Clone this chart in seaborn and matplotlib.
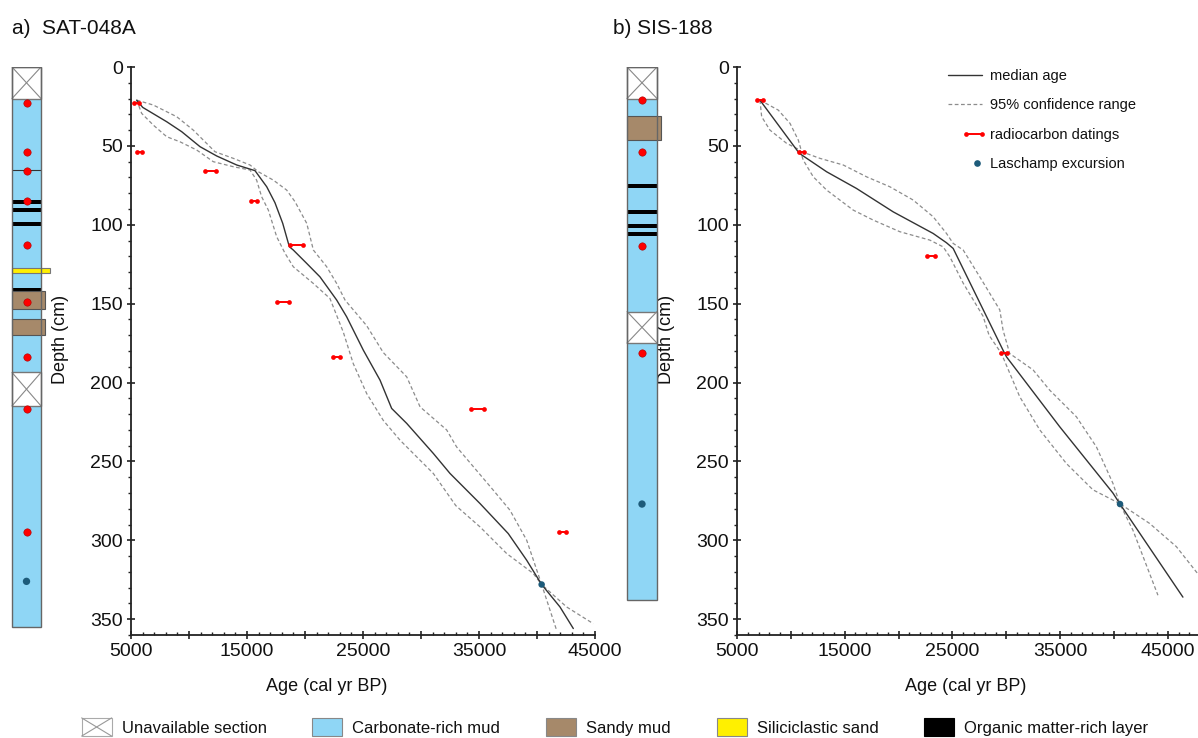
import numpy as np
import pandas as pd
import matplotlib
matplotlib.use("Agg")
import matplotlib.pyplot as plt
import seaborn as sns
from matplotlib.patches import Rectangle, Patch
from matplotlib.lines import Line2D
from matplotlib.legend_handler import HandlerBase
from matplotlib.ticker import MultipleLocator, FuncFormatter

sns.set_theme(style="white")
plt.rcParams["font.family"] = ["Liberation Sans", "DejaVu Sans"]

# ---------------- SAT-048A age-depth model ----------------
sat_med_age = [5490, 6010, 8080, 9370, 10950, 12390, 14110, 15690, 16700, 17410, 18080,
               18650, 18990, 20150, 21290, 22730, 23590, 25030, 26470, 27470, 28770,
               31060, 32500, 35090, 37520, 39110, 40400, 41980, 43130]
sat_med_depth = [21, 25.6, 34.7, 41, 50.5, 56.4, 62.1, 65.7, 75.9, 86, 99.1,
                 113.9, 116, 124.5, 133, 147.7, 158.3, 179.5, 198.5, 216.4, 225.9,
                 244.9, 257.6, 276.7, 295.7, 312.6, 328, 342.2, 355.9]
sat_old_age = [5490, 6920, 8940, 10370, 11230, 12240, 13820, 15260, 15980, 17270, 18420,
               19140, 20150, 20720, 21870, 22730, 23450, 25320, 26750, 28770, 29920,
               32210, 33070, 36230, 37670, 39110, 40400, 42550, 44850]
sat_old_depth = [21, 24.1, 31.5, 40, 46.3, 53.7, 57.9, 62.1, 66.4, 71.7, 78,
                 85.4, 99.1, 116, 126.6, 137.2, 147.7, 164, 181, 196.4, 215.4,
                 230, 240.8, 268.2, 280.9, 299.9, 328, 342.2, 352.8]
sat_young_age = [5490, 5920, 6920, 8080, 9220, 10660, 12090, 13820, 15260, 15830, 16260,
                 16840, 17560, 18280, 18990, 20720, 22150, 23300, 24160, 25320, 26750,
                 28190, 31060, 33000, 35090, 37390, 39680, 40400, 41690]
sat_young_depth = [21, 29.4, 36.8, 44.2, 47.4, 52.6, 60, 63.2, 65.3, 71.7, 82.2,
                   90.7, 107.6, 118.1, 126.6, 137.2, 146.7, 168, 188, 207, 224,
                   236.5, 257.6, 278, 291.5, 308.4, 321, 328, 357]
sat_c14_depth = [23, 54, 66, 85, 113, 149, 184, 217, 295]
sat_c14_min = [5260, 5545, 11400, 15320, 18730, 17560, 22380, 34280, 41870]
sat_c14_max = [5720, 5920, 12350, 15890, 19850, 18590, 23010, 35460, 42470]
sat_lasch_age, sat_lasch_depth = 40400, 328

# ---------------- SIS-188 age-depth model ----------------
sis_med_age = [7130, 10780, 13320, 16100, 19500, 23210, 24450, 25070, 29700, 30020,
               34960, 39900, 40530, 46400]
sis_med_depth = [21, 54.7, 66.4, 77, 91.8, 105.5, 111.4, 115, 179.5, 183.7,
                 228, 270, 276.7, 336]
sis_old_age = [7130, 8830, 9920, 10690, 11000, 12700, 14860, 17030, 19190, 21350, 23210,
               24450, 25070, 26000, 27540, 29400, 29700, 30320, 32490, 34030, 36510,
               38370, 39910, 40530, 43310, 45790, 47760, 49500]
sis_old_depth = [21, 27.3, 35.7, 46.3, 53.7, 57.9, 62.1, 69.6, 75.9, 84.3, 94.9,
                 105.5, 111.8, 116, 133, 154, 166.8, 181.6, 192, 204.8, 221.7,
                 240.8, 264, 276.7, 289.3, 304, 321, 332]
sis_young_age = [7130, 7290, 8060, 9610, 10840, 11150, 12080, 13320, 15790, 17640, 20120,
                 22900, 24140, 24760, 26000, 27850, 28400, 29550, 31250, 33110, 35580,
                 38050, 40530, 41760, 44080]
sis_young_depth = [21, 31.5, 40, 48.4, 52.6, 59, 69.6, 78, 90.7, 97, 104.4,
                   109.7, 114, 120.3, 137, 158, 170, 181.6, 209, 230, 251.3,
                   268, 276.7, 293.6, 334.8]
sis_c14_depth = [21, 54, 120, 181]
sis_c14_min = [6900, 10720, 22650, 29550]
sis_c14_max = [7450, 11215, 23340, 30070]
sis_lasch_age, sis_lasch_depth = 40560, 277

# ---------------- core logs (depth intervals, cm) ----------------
sat_core_bottom = 355
sat_unavailable = [(0, 20), (193.6, 214.8)]
sat_sandy = [(142, 153.6), (160, 170)]
sat_silici = [(127.1, 130.5)]
sat_organic = [(84.2, 86.8), (89.4, 92), (98.3, 100.9), (140.2, 142.8)]
sat_contacts = [65]
sat_core_c14 = [23, 54, 66, 85, 113, 149, 184, 217, 295]
sat_core_lasch = [326]

sis_core_bottom = 338
sis_unavailable = [(0, 20), (155, 175)]
sis_sandy = [(31, 46)]
sis_silici = []
sis_organic = [(74, 76.5), (90.5, 93), (99.3, 101.8), (104.5, 107)]
sis_contacts = []
sis_core_c14 = [21, 54, 113.5, 181]
sis_core_lasch = [277]

CARB = "#8fd6f5"
SANDY = "#a6896a"
YELLOW = "#fff000"
RED = "#ff0000"
LASCH = "#1d5b7a"
MED = "#333333"
CI = "#8c8c8c"

W, H = 1198, 738
fig = plt.figure(figsize=(W / 100, H / 100), dpi=100)


def px_rect(x0, y_top, x1, y_bot):
    return [x0 / W, 1 - y_bot / H, (x1 - x0) / W, (y_bot - y_top) / H]


ax_a = fig.add_axes(px_rect(131, 67, 595, 635))
ax_b = fig.add_axes(px_rect(737, 67, 1198, 635))
core_a = fig.add_axes(px_rect(0, 67, 70, 635))
core_b = fig.add_axes(px_rect(600, 67, 670, 635))


def dating_frame(depths, lo, hi):
    rows = []
    for i, (d, a0, a1) in enumerate(zip(depths, lo, hi)):
        rows.append(dict(id=i, age=a0, depth=d))
        rows.append(dict(id=i, age=a1, depth=d))
    return pd.DataFrame(rows)


def draw_model(ax, med, old, young, c14, lasch):
    sns.lineplot(x=old[0], y=old[1], sort=False, estimator=None, color=CI, lw=0.9,
                 linestyle=(0, (3, 2)), ax=ax)
    sns.lineplot(x=young[0], y=young[1], sort=False, estimator=None, color=CI, lw=0.9,
                 linestyle=(0, (3, 2)), ax=ax)
    sns.lineplot(x=med[0], y=med[1], sort=False, estimator=None, color=MED, lw=1.0, ax=ax)
    df = dating_frame(*c14)
    sns.lineplot(data=df, x="age", y="depth", units="id", estimator=None, sort=False,
                 color=RED, lw=1.4, marker="o", markersize=3.4, markeredgewidth=0, ax=ax)
    sns.scatterplot(x=[lasch[0]], y=[lasch[1]], color=LASCH, s=22, edgecolor="none",
                    ax=ax, zorder=5)


def style_age_axes(ax, xmax, xlabel_x):
    ax.set_xlim(5000, xmax)
    ax.set_ylim(360, 0)
    ax.set_facecolor("none")
    for s in ["top", "right"]:
        ax.spines[s].set_visible(False)
    for s in ["left", "bottom"]:
        ax.spines[s].set_color("#222222")
        ax.spines[s].set_linewidth(1.3)
    ax.xaxis.set_major_locator(MultipleLocator(5000))
    ax.xaxis.set_major_formatter(FuncFormatter(
        lambda v, p: f"{int(round(v))}" if int(round(v)) % 10000 == 5000 else ""))
    ax.xaxis.set_minor_locator(MultipleLocator(1000))
    ax.yaxis.set_major_locator(MultipleLocator(50))
    ax.yaxis.set_minor_locator(MultipleLocator(10))
    ax.tick_params(which="both", bottom=True, left=True, color="#222222")
    ax.tick_params(which="major", direction="inout", length=6, width=1.2,
                   labelsize=14, labelcolor="#111111")
    ax.tick_params(axis="x", which="major", pad=3)
    ax.tick_params(axis="y", which="major", pad=3)
    ax.tick_params(axis="x", which="minor", direction="in", length=2.2, width=1)
    ax.tick_params(axis="y", which="minor", direction="out", length=2.5, width=1)
    ax.set_xlabel("Age (cal yr BP)", fontsize=13, color="#111111")
    ax.set_ylabel("Depth (cm)", fontsize=13, color="#111111")
    ax.xaxis.set_label_coords(xlabel_x, -0.076)
    ax.yaxis.set_label_coords(-0.134, 0.52)


def draw_core(ax, bottom, unavailable, sandy, silici, organic, contacts, c14, lasch, x0, x1):
    w = x1 - x0
    ax.add_patch(Rectangle((x0, 0), w, bottom, fc=CARB, ec="none", zorder=1))
    for top, bot in organic:
        ax.add_patch(Rectangle((x0, top), w, bot - top, fc="black", ec="none", zorder=2))
    for top, bot in sandy:
        ax.add_patch(Rectangle((x0, top), w + 4, bot - top, fc=SANDY, ec="#555555",
                               lw=0.8, zorder=3))
    for top, bot in silici:
        ax.add_patch(Rectangle((x0, top), w + 9, bot - top, fc=YELLOW, ec="#777777",
                               lw=0.8, zorder=3))
    for c in contacts:
        ax.plot([x0, x1], [c, c], color="#333333", lw=0.8, zorder=3)
    for top, bot in unavailable:
        ax.add_patch(Rectangle((x0, top), w, bot - top, fc="white", ec="#777777",
                               lw=1.0, zorder=4))
        ax.plot([x0, x1], [top, bot], color="#888888", lw=0.8, zorder=4)
        ax.plot([x0, x1], [bot, top], color="#888888", lw=0.8, zorder=4)
    ax.add_patch(Rectangle((x0, 0), w, bottom, fill=False, ec="#666666", lw=1.0, zorder=5))
    xc = (x0 + x1) / 2
    sns.scatterplot(x=[xc] * len(c14), y=c14, color=RED, s=28, edgecolor="#aa0000",
                    linewidth=0.4, ax=ax, zorder=6)
    sns.scatterplot(x=[xc] * len(lasch), y=lasch, color=LASCH, s=28, edgecolor="none",
                    ax=ax, zorder=6)
    ax.set_xlim(0, 70)
    ax.set_ylim(360, 0)
    ax.axis("off")


draw_model(ax_a, (sat_med_age, sat_med_depth), (sat_old_age, sat_old_depth),
           (sat_young_age, sat_young_depth), (sat_c14_depth, sat_c14_min, sat_c14_max),
           (sat_lasch_age, sat_lasch_depth))
draw_model(ax_b, (sis_med_age, sis_med_depth), (sis_old_age, sis_old_depth),
           (sis_young_age, sis_young_depth), (sis_c14_depth, sis_c14_min, sis_c14_max),
           (sis_lasch_age, sis_lasch_depth))
style_age_axes(ax_a, 45000, 0.422)
style_age_axes(ax_b, 47800, 0.495)

draw_core(core_a, sat_core_bottom, sat_unavailable, sat_sandy, sat_silici, sat_organic,
          sat_contacts, sat_core_c14, sat_core_lasch, 12, 41)
draw_core(core_b, sis_core_bottom, sis_unavailable, sis_sandy, sis_silici, sis_organic,
          sis_contacts, sis_core_c14, sis_core_lasch, 27, 57)

fig.text(12 / W, 1 - 28 / H, "a)  SAT-048A", fontsize=15, va="center", ha="left",
         color="#111111")
fig.text(613 / W, 1 - 28 / H, "b) SIS-188", fontsize=15, va="center", ha="left",
         color="#111111")


# ---------------- legends ----------------
class RightSegmentHandler(HandlerBase):
    """Draws a short marker segment (or a single dot) at the right end of the handle box."""

    def __init__(self, frac, single=False):
        super().__init__()
        self.frac = frac
        self.single = single

    def create_artists(self, legend, orig, xdescent, ydescent, width, height, fontsize, trans):
        y = height / 2 - ydescent
        x1 = width - xdescent
        if self.single:
            xs, ys, ls = [x1 - 3], [y], "none"
        else:
            xs, ys, ls = [x1 - width * self.frac, x1], [y, y], "-"
        ln = Line2D(xs, ys, color=orig.get_color(), lw=orig.get_linewidth(), ls=ls,
                    marker="o", ms=orig.get_markersize(), markeredgewidth=0,
                    transform=trans)
        return [ln]


class UnavailableHandler(HandlerBase):
    def create_artists(self, legend, orig, xdescent, ydescent, width, height, fontsize, trans):
        x0, y0 = -xdescent, -ydescent
        r = Rectangle((x0, y0), width, height, fc="white", ec="#aaaaaa", lw=0.8,
                      transform=trans)
        l1 = Line2D([x0, x0 + width], [y0, y0 + height], color="#999999", lw=0.8,
                    transform=trans)
        l2 = Line2D([x0, x0 + width], [y0 + height, y0], color="#999999", lw=0.8,
                    transform=trans)
        return [r, l1, l2]


h_med = Line2D([], [], color=MED, lw=1.0)
h_ci = Line2D([], [], color=CI, lw=0.9, ls=(0, (3, 2)))
h_c14 = Line2D([], [], color=RED, lw=1.4, marker="o", ms=3.4)
h_las = Line2D([], [], color=LASCH, lw=0, marker="o", ms=4.8)
leg = ax_b.legend([h_med, h_ci, h_c14, h_las],
                  ["median age", "95% confidence range", "radiocarbon datings",
                   "Laschamp excursion"],
                  handler_map={h_c14: RightSegmentHandler(0.45),
                               h_las: RightSegmentHandler(0, single=True)},
                  loc="upper left", bbox_to_anchor=(948 / W, 1 - 69 / H),
                  bbox_transform=fig.transFigure, frameon=False, fontsize=10.5,
                  handlelength=2.3, handletextpad=0.6, labelspacing=1.05,
                  borderpad=0, borderaxespad=0)
for t in leg.get_texts():
    t.set_color("#111111")

h_unav = Patch(fc="white", ec="#aaaaaa")
h_carb = Patch(fc=CARB, ec="#888888", lw=0.8)
h_sandy = Patch(fc=SANDY, ec="#888888", lw=0.8)
h_sil = Patch(fc=YELLOW, ec="#888888", lw=0.8)
h_org = Patch(fc="black", ec="black", lw=0.8)
fleg = fig.legend([h_unav, h_carb, h_sandy, h_sil, h_org],
                  ["Unavailable section", "Carbonate-rich mud", "Sandy mud",
                   "Siliciclastic sand", "Organic matter-rich layer"],
                  handler_map={h_unav: UnavailableHandler()},
                  ncol=5, loc="center", bbox_to_anchor=(615 / W, 1 - 727 / H),
                  frameon=False, fontsize=12, handlelength=1.8, handleheight=1.3,
                  columnspacing=2.75, handletextpad=0.6, borderpad=0, borderaxespad=0)
for t in fleg.get_texts():
    t.set_color("#111111")

fig.savefig("out.png", dpi=100)
